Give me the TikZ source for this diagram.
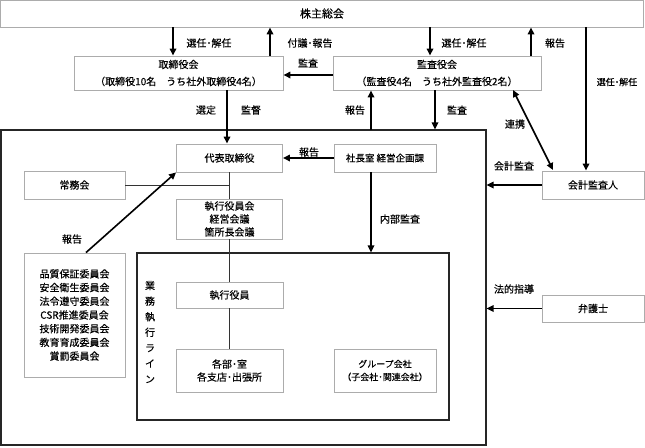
\documentclass[tikz,border=0pt]{standalone}
\usepackage{fontspec}
\setmainfont{Noto Sans CJK JP}[FakeBold=0.35]
\usetikzlibrary{arrows.meta,calc}
\begin{document}
\begin{tikzpicture}[x=1pt,y=-1pt,
  box/.style={draw=gray!65, line width=0.9pt, fill=white, inner sep=0pt, align=center, font=\fontsize{10}{13}\selectfont},
  frame/.style={draw=black!85, line width=1.1pt, inner sep=0pt},
  arr/.style={-{Triangle[length=7pt,width=6.5pt]}, line width=1.6pt, black},
  darr/.style={{Triangle[length=7pt,width=6.5pt]}-{Triangle[length=7pt,width=6.5pt]}, line width=1.6pt, black},
  link/.style={line width=0.8pt, black!80},
  lbl/.style={font=\fontsize{10}{12}\selectfont, inner sep=1pt}]
\useasboundingbox (0,0) rectangle (645,447);

% frames
\node[frame, minimum width=485pt, minimum height=315pt] (outer) at (243.5,287.5) {};
\node[frame, minimum width=312pt, minimum height=167pt] (gyomu) at (293,336.5) {};

% boxes
\node[box, minimum width=643pt, minimum height=27pt, font=\fontsize{11}{13}\selectfont] (soukai) at (322,13.5) {株主総会};
\node[box, minimum width=209pt, minimum height=34pt, font=\fontsize{10}{17}\selectfont] (tori) at (178.5,73) {取締役会\\（取締役10名　うち社外取締役4名）};
\node[box, minimum width=208pt, minimum height=34pt, font=\fontsize{10}{17}\selectfont] (kansa) at (437,73) {監査役会\\（監査役4名　うち社外監査役2名）};
\node[box, minimum width=106pt, minimum height=28pt] (daihyo) at (229.5,158) {代表取締役};
\node[box, minimum width=102pt, minimum height=28pt, font=\fontsize{9.5}{12}\selectfont] (shacho) at (385,158) {社長室 経営企画課};
\node[box, minimum width=101pt, minimum height=28pt] (jomu) at (74.5,185) {常務会};
\node[box, minimum width=106pt, minimum height=40pt] (shikko) at (229.5,219) {執行役員会\\経営会議\\箇所長会議};
\node[box, minimum width=101pt, minimum height=124pt, font=\fontsize{10}{13.7}\selectfont] (iinkai) at (74.5,315) {品質保証委員会\\安全衛生委員会\\法令遵守委員会\\CSR推進委員会\\技術開発委員会\\教育育成委員会\\賞罰委員会};
\node[box, minimum width=107pt, minimum height=26pt] (yakuin) at (229.5,295) {執行役員};
\node[box, minimum width=107pt, minimum height=43pt] (kakubu) at (229.5,370.5) {各部･室\\各支店･出張所};
\node[box, minimum width=102pt, minimum height=43pt, font=\fontsize{9}{13}\selectfont] (group) at (385,370.5) {グループ会社\\（子会社･関連会社）};
\node[box, minimum width=102pt, minimum height=28pt] (kaikei) at (593,185) {会計監査人};
\node[box, minimum width=102pt, minimum height=27pt] (bengo) at (593,308.5) {弁護士};

% vertical label
\node[inner sep=0pt, align=center, font=\fontsize{10}{15.6}\selectfont] (gyomulbl) at (150,332) {業\\務\\執\\行\\ラ\\イ\\ン};

% coordinates
\coordinate (rep) at (371,130);
\coordinate (lkA) at (513,90);
\coordinate (lkB) at (553,170);

% thin links
\draw[link] (jomu.east) -- (jomu.east -| daihyo.south);
\draw[link] (daihyo.south) -- (shikko.north);
\draw[link] (shikko.south) -- (yakuin.north);
\draw[link] (yakuin.south) -- (kakubu.north);

% arrows
\draw[arr] (soukai.south -| 173,0) -- (tori.north -| 173,0);
\draw[arr] (tori.north -| 270,0) -- (soukai.south -| 270,0);
\draw[arr] (kansa.west |- 0,75) -- (tori.east |- 0,75);
\draw[arr] (soukai.south -| 430,0) -- (kansa.north -| 430,0);
\draw[arr] (kansa.north -| 531,0) -- (soukai.south -| 531,0);
\draw[arr] (soukai.south -| 586,0) -- (kaikei.north -| 586,0);
\draw[arr] (tori.south -| 227,0) -- (daihyo.north -| 227,0);
\draw[arr] (rep) -- (kansa.south -| rep);
\draw[arr] (kansa.south -| 435,0) -- (outer.north -| 435,0);
\draw[darr] (lkA) -- (lkB);
\draw[arr] (shacho.west) -- (daihyo.east);
\draw[arr] (shacho.south -| 371,0) -- (gyomu.north -| 371,0);
\draw[arr] (kaikei.west) -- (outer.east |- kaikei.west);
\draw[arr] (bengo.west) -- (outer.east |- bengo.west);
\draw[arr] (iinkai.north -| 86,0) -- (daihyo.south west);

% labels
\node[lbl] (l1) at (209,43) {選任･解任};
\node[lbl] (l2) at (310,43) {付議･報告};
\node[lbl] (l3) at (308,63) {監査};
\node[lbl] (l4) at (464,43) {選任･解任};
\node[lbl] (l5) at (555,43) {報告};
\node[lbl, font=\fontsize{9}{11}\selectfont] (l6) at (617,82) {選任･解任};
\node[lbl] (l7) at (206,110) {選定};
\node[lbl] (l8) at (251,110) {監督};
\node[lbl] (l9) at (355,110) {報告};
\node[lbl] (l10) at (457,110) {監査};
\node[lbl] (l11) at (515,124) {連携};
\node[lbl] (l12) at (309,152) {報告};
\node[lbl] (l13) at (514,166) {会計監査};
\node[lbl] (l14) at (400,219) {内部監査};
\node[lbl] (l15) at (72,239) {報告};
\node[lbl] (l16) at (514,289) {法的指導};
\end{tikzpicture}
\end{document}
